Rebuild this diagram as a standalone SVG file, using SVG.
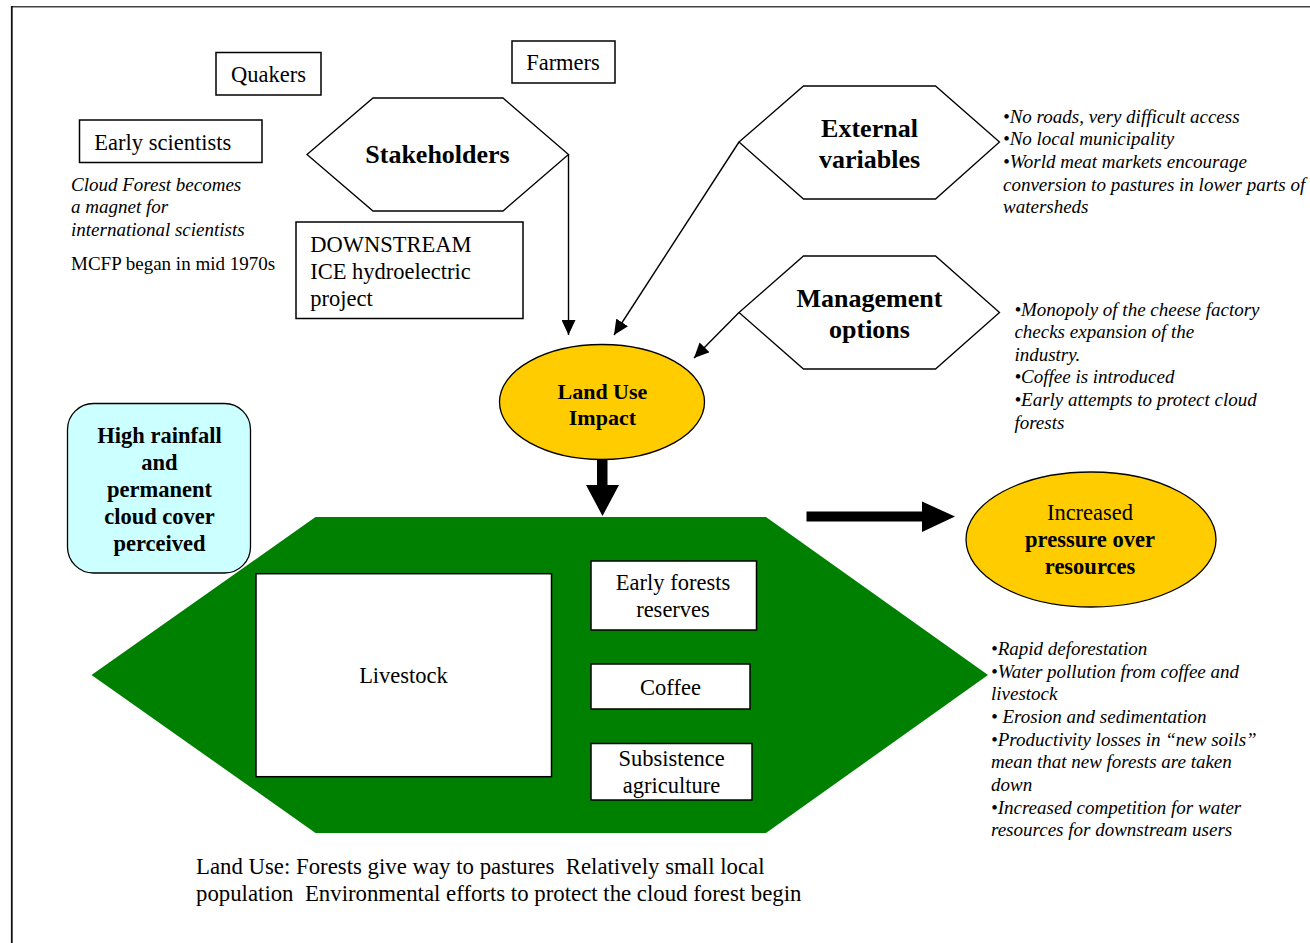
<svg xmlns="http://www.w3.org/2000/svg" width="1310" height="943" viewBox="0 0 1310 943">
<style>
text{font-family:"Liberation Serif","Times New Roman",serif;fill:#000}
.r{font-size:22.5px}
.b{font-size:22.5px;font-weight:bold}
.h{font-size:26px;font-weight:bold}
.i{font-size:19px;font-style:italic}
.n{font-size:19px}
.m{text-anchor:middle}
.pre{white-space:pre}
.cap{font-size:22.8px}
.box{fill:#fff;stroke:#000;stroke-width:1.5}
.hex{fill:#fff;stroke:#000;stroke-width:1.3}
.con{fill:none;stroke:#000;stroke-width:1.4}
</style>
<defs>
<marker id="ah" markerUnits="userSpaceOnUse" markerWidth="16" markerHeight="14" refX="15" refY="7" orient="auto">
<path d="M0,0 L15,7 L0,14 Z" fill="#000"/>
</marker>
</defs>
<rect width="1310" height="943" fill="#fff"/>
<g id="frame">
<line x1="11" y1="6.8" x2="1310" y2="6.8" stroke="#444" stroke-width="1.4"/>
<line x1="11.8" y1="6" x2="11.8" y2="943" stroke="#111" stroke-width="1.8"/>
</g>
<g id="quakers"><rect class="box" x="216" y="52.5" width="105" height="42.5"/><text class="r m" x="268.5" y="82">Quakers</text></g>
<g id="farmers"><rect class="box" x="512" y="41" width="103" height="42"/><text class="r m" x="563" y="70">Farmers</text></g>
<g id="early-scientists"><rect class="box" x="79.5" y="120" width="182.5" height="42.5"/><text class="r" x="94.3" y="150">Early scientists</text></g>
<g id="cloud-forest-note">
<text class="i" x="71" y="191">Cloud Forest becomes</text>
<text class="i" x="71" y="213">a magnet for</text>
<text class="i" x="71" y="235.5">international scientists</text>
<text class="n" x="71" y="269.5">MCFP began in mid 1970s</text>
</g>
<g id="stakeholders"><polygon class="hex" points="307,154.5 373,98 503,98 568.5,154.5 503,211 373,211"/><text class="h m" x="437.5" y="163">Stakeholders</text></g>
<g id="downstream"><rect class="box" x="296" y="222" width="227" height="96.5"/>
<text class="r" x="310.2" y="252">DOWNSTREAM</text>
<text class="r" x="310.2" y="279">ICE hydroelectric</text>
<text class="r" x="310.2" y="305.5">project</text></g>
<g id="external-variables"><polygon class="hex" points="739,142 803.5,86 935.5,86 999.5,142 935.5,199 803.5,199"/>
<text class="h m" x="869.5" y="137">External</text><text class="h m" x="869.5" y="167.5">variables</text></g>
<g id="external-notes">
<text class="i" x="1003" y="123">•No roads, very difficult access</text>
<text class="i" x="1003" y="145">•No local municipality</text>
<text class="i" x="1003" y="168">•World meat markets encourage</text>
<text class="i" x="1003" y="190.5">conversion to pastures in lower parts of</text>
<text class="i" x="1003" y="213">watersheds</text>
</g>
<g id="management-options"><polygon class="hex" points="739,312.5 803.5,256 935.5,256 999.5,312.5 935.5,369 803.5,369"/>
<text class="h m" x="869.5" y="307">Management</text><text class="h m" x="869.5" y="337.5">options</text></g>
<g id="management-notes">
<text class="i" x="1014.4" y="315.5">•Monopoly of the cheese factory</text>
<text class="i" x="1014.4" y="338">checks expansion of the</text>
<text class="i" x="1014.4" y="360.5">industry.</text>
<text class="i" x="1014.4" y="383">•Coffee is introduced</text>
<text class="i" x="1014.4" y="405.5">•Early attempts to protect cloud</text>
<text class="i" x="1014.4" y="428.5">forests</text>
</g>
<g id="land-use-impact"><ellipse cx="602" cy="402" rx="102.5" ry="57.5" fill="#FFCC00" stroke="#000" stroke-width="1.3"/>
<text class="b m" x="602.4" y="398.5" style="font-size:22px">Land Use</text><text class="b m" x="602.4" y="424.5" style="font-size:22px">Impact</text></g>
<g id="high-rainfall"><rect x="67.5" y="403.5" width="183" height="169.5" rx="26" ry="26" fill="#CCFFFF" stroke="#000" stroke-width="1.3"/>
<text class="b m" x="159.5" y="443">High rainfall</text>
<text class="b m" x="159.5" y="470">and</text>
<text class="b m" x="159.5" y="497">permanent</text>
<text class="b m" x="159.5" y="524">cloud cover</text>
<text class="b m" x="159.5" y="551">perceived</text></g>
<g id="land-use-hexagon"><polygon points="91.5,675 315.5,517 766,517 988,675 766,833 315.5,833" fill="#008000"/></g>
<g id="livestock"><rect class="box" x="256" y="573.7" width="295.5" height="203"/><text class="r m" x="403.5" y="683">Livestock</text></g>
<g id="early-forests"><rect class="box" x="591" y="561" width="165.5" height="69"/>
<text class="r m" x="673" y="590">Early forests</text><text class="r m" x="673" y="617">reserves</text></g>
<g id="coffee"><rect class="box" x="591" y="664" width="159" height="45"/><text class="r m" x="670.5" y="695">Coffee</text></g>
<g id="subsistence"><rect class="box" x="591" y="743.5" width="161" height="56.5"/>
<text class="r m" x="671.5" y="766">Subsistence</text><text class="r m" x="671.5" y="792.5">agriculture</text></g>
<g id="increased-pressure"><ellipse cx="1091" cy="539.5" rx="125" ry="67.5" fill="#FFCC00" stroke="#000" stroke-width="1.3"/>
<text class="r m" x="1090" y="520">Increased</text>
<text class="b m" x="1090" y="547">pressure over</text>
<text class="b m" x="1090" y="573.5">resources</text></g>
<g id="impact-notes">
<text class="i" x="991" y="654.5">•Rapid deforestation</text>
<text class="i" x="991" y="677.5">•Water pollution from coffee and</text>
<text class="i" x="991" y="700">livestock</text>
<text class="i pre" x="991" y="722.5">• Erosion and sedimentation</text>
<text class="i" x="991" y="745.5">•Productivity losses in “new soils”</text>
<text class="i" x="991" y="768">mean that new forests are taken</text>
<text class="i" x="991" y="790.5">down</text>
<text class="i" x="991" y="813.5">•Increased competition for water</text>
<text class="i" x="991" y="836">resources for downstream users</text>
</g>
<g id="land-use-caption">
<text class="cap pre" x="196" y="873.5" xml:space="preserve">Land Use: Forests give way to pastures  Relatively small local</text>
<text class="cap pre" x="196" y="901" xml:space="preserve">population  Environmental efforts to protect the cloud forest begin</text>
</g>
<g id="connectors">
<polyline class="con" points="568.5,154.5 568.5,335" marker-end="url(#ah)"/>
<line class="con" x1="739" y1="142" x2="614" y2="335" marker-end="url(#ah)"/>
<line class="con" x1="739" y1="312.5" x2="694" y2="358" marker-end="url(#ah)"/>
<path d="M597,459 H607.5 V485 H619 L602.5,516 L586,485 H597 Z" fill="#000"/>
<path d="M806.5,511.5 H922 V501.5 L955,516.5 L922,532 V521.5 H806.5 Z" fill="#000"/>
</g>
</svg>
